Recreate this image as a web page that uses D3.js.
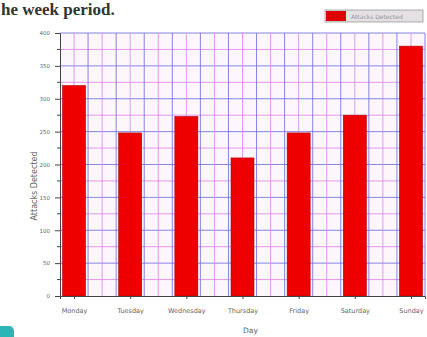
<!DOCTYPE html>
<html>
<head>
<meta charset="utf-8">
<script src="https://cdn.jsdelivr.net/npm/d3@7"></script>
<style>
  html, body { margin: 0; padding: 0; background: #fff; overflow: hidden; }
  svg { display: block; }
</style>
</head>
<body>
<svg id="chart" width="427" height="337"></svg>
<script>
// Weekly attack counts
const days = ["Monday", "Tuesday", "Wednesday", "Thursday", "Friday", "Saturday", "Sunday"];
const attacks = [320, 248, 273, 210, 248, 275, 380];
const yTicks = [0, 50, 100, 150, 200, 250, 300, 350, 400];
const seriesName = "Attacks Detected";
const xTitle = "Day";
const yTitle = "Attacks Detected";
const captionText = "he week period.";

const svg = d3.select("#chart");
const plot = { left: 60, right: 425, top: 33, bottom: 296 };

// end of the sentence above the chart
svg.append("text")
  .attr("x", 1).attr("y", 15)
  .attr("font-family", "Liberation Serif, serif")
  .attr("font-size", 17).attr("font-weight", "bold")
  .attr("fill", "#333")
  .text(captionText);

const x = d3.scalePoint().domain(days).range([plot.left, plot.right]).padding(0.25);
const y = d3.scaleLinear().domain([0, 400]).range([plot.bottom, plot.top]);
const step = x.step();

// plot background
svg.append("rect")
  .attr("x", plot.left).attr("y", plot.top)
  .attr("width", plot.right - plot.left).attr("height", plot.bottom - plot.top)
  .attr("fill", "#fdf6fd");

const grid = svg.append("g");
// horizontal grid: every 25 units, blue on major, pink on minor
d3.range(25, 401, 25).forEach(v => {
  grid.append("line")
    .attr("x1", plot.left).attr("x2", plot.right)
    .attr("y1", y(v)).attr("y2", y(v))
    .attr("stroke", v % 50 === 0 ? "#6a6ae0" : "#e080e8")
    .attr("stroke-width", 1).attr("opacity", 0.8);
});
// vertical grid: every quarter category step
const nV = Math.floor((plot.right - plot.left) / (step / 4));
d3.range(1, nV + 1).forEach(i => {
  const xx = plot.left + i * step / 4;
  grid.append("line")
    .attr("x1", xx).attr("x2", xx)
    .attr("y1", plot.top).attr("y2", plot.bottom)
    .attr("stroke", i % 2 === 0 ? "#6a6ae0" : "#d888e8")
    .attr("stroke-width", 1).attr("opacity", 0.8);
});

// bars
const barW = 23;
svg.append("g").selectAll("rect").data(days).join("rect")
  .attr("x", d => x(d) - barW / 2)
  .attr("y", (d, i) => y(attacks[i]))
  .attr("width", barW)
  .attr("height", (d, i) => y(0) - y(attacks[i]))
  .attr("fill", "#ee0000")
  .attr("stroke", "#b00000").attr("stroke-width", 0.6);

// y axis
const yAxis = d3.axisLeft(y).tickValues(yTicks).tickSize(5).tickPadding(5);
const gy = svg.append("g").attr("transform", `translate(${plot.left},0)`).call(yAxis);
gy.select(".domain").attr("stroke", "#444");
gy.selectAll(".tick line").attr("stroke", "#444");
gy.selectAll("text").attr("font-family", "DejaVu Sans, sans-serif").attr("font-size", 5.5).attr("fill", "#666");
// minor y ticks
svg.append("g").selectAll("line").data(d3.range(25, 400, 50)).join("line")
  .attr("x1", plot.left - 3).attr("x2", plot.left)
  .attr("y1", d => y(d)).attr("y2", d => y(d))
  .attr("stroke", "#444");

// x axis
const xAxis = d3.axisBottom(x).tickSize(3).tickPadding(9);
const gx = svg.append("g").attr("transform", `translate(0,${plot.bottom})`).call(xAxis);
gx.select(".domain").attr("stroke", "#444");
gx.selectAll(".tick line").attr("stroke", "#444");
gx.selectAll("text").attr("font-family", "DejaVu Sans, sans-serif").attr("font-size", 6.5).attr("fill", "#666");

// axis titles
svg.append("text")
  .attr("x", (plot.left + plot.right) / 2 + 8).attr("y", 333)
  .attr("text-anchor", "middle")
  .attr("font-family", "DejaVu Sans, sans-serif").attr("font-size", 7.5).attr("fill", "#666")
  .text(xTitle);
svg.append("text")
  .attr("transform", `translate(37,186) rotate(-90)`)
  .attr("text-anchor", "middle")
  .attr("font-family", "DejaVu Sans, sans-serif").attr("font-size", 8).attr("fill", "#666")
  .text(yTitle);

// legend
const lg = svg.append("g").attr("transform", "translate(325,10)");
lg.append("rect").attr("x", 0).attr("y", 0).attr("width", 98).attr("height", 12)
  .attr("fill", "#e4e0e4").attr("stroke", "#999").attr("stroke-width", 0.8);
lg.append("rect").attr("x", 1).attr("y", 1).attr("width", 20).attr("height", 10).attr("fill", "#dd0000");
lg.append("text").attr("x", 26).attr("y", 8.5)
  .attr("font-family", "DejaVu Sans, sans-serif").attr("font-size", 6).attr("fill", "#999")
  .text(seriesName);

// corner badge
svg.append("rect").attr("x", -6).attr("y", 326).attr("width", 20).attr("height", 20)
  .attr("rx", 5).attr("fill", "#2bb5b5");
</script>
</body>
</html>
